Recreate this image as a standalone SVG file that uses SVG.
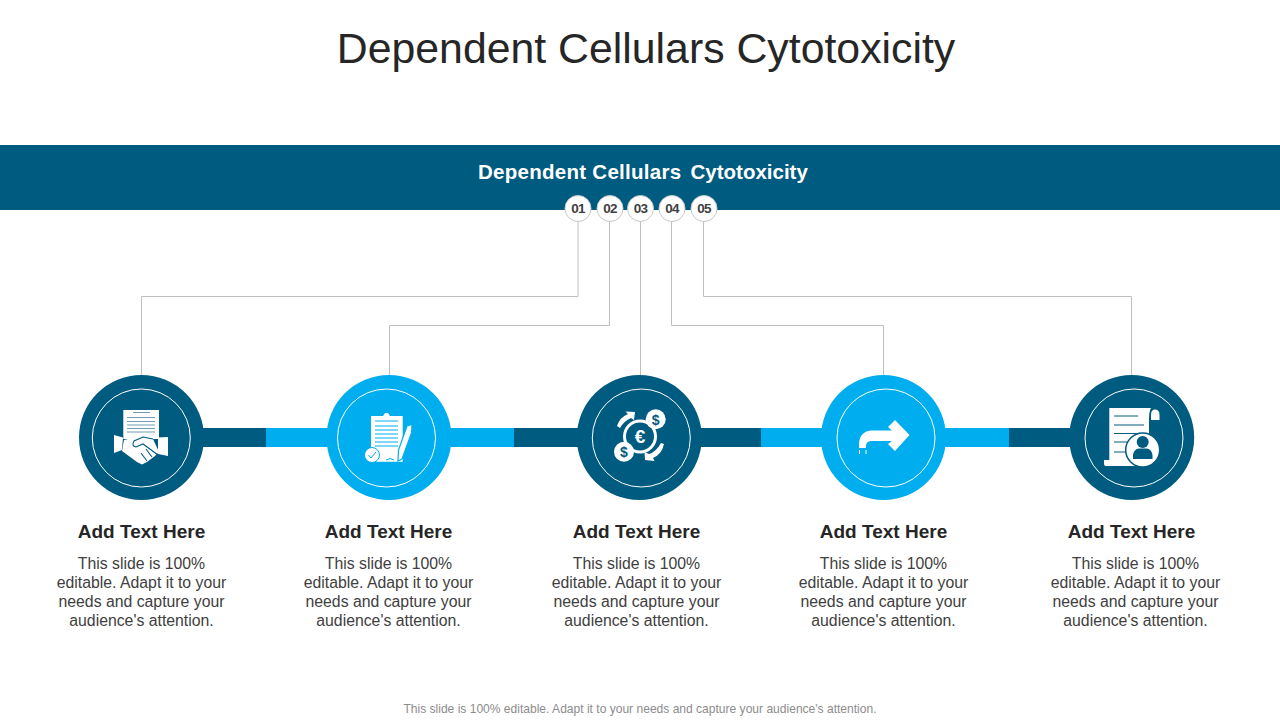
<svg xmlns="http://www.w3.org/2000/svg" width="1280" height="720" viewBox="0 0 1280 720">
<style>
text{font-family:"Liberation Sans",Arial,sans-serif}
.d{fill:#005b80}.l{fill:#00aeef}.w{fill:#fff}
.ring{fill:none;stroke:#fff;stroke-width:1}
.c{fill:none;stroke:#bfbfbf;stroke-width:1}
.b{fill:#fff;stroke:#c8c8c8;stroke-width:1}
.n{font-size:13.500px;font-weight:700;fill:#404040;text-anchor:middle;letter-spacing:-.7px}
.h{font-size:19px;font-weight:700;fill:#262626;text-anchor:middle}
.p{font-size:15.800px;fill:#404040;text-anchor:middle}
.ln{stroke-width:1;fill:none}
</style>
<rect width="1280" height="720" fill="#fff"/>
<text id="title" x="646" y="63" font-size="42.800" fill="#262626" text-anchor="middle">Dependent Cellulars Cytotoxicity</text>
<g id="banner"><rect class="d" x="0" y="145" width="1280" height="65"/>
<text y="179" font-size="20.500" font-weight="700" fill="#fff"><tspan x="478" letter-spacing=".27">Dependent Cellulars</tspan> <tspan x="690.500">Cytotoxicity</tspan></text></g>
<g id="connectors">
<path class="c" d="M578 221V296.500H141.500V375"/>
<path class="c" d="M609.500 221V325.500H389.500V375"/>
<path class="c" d="M640.500 221V375"/>
<path class="c" d="M671.500 221V325.500H883.500V375"/>
<path class="c" d="M703.500 221V296.500H1131.500V375"/>
<rect class="d" x="200" y="428" width="66" height="19"/><rect class="l" x="266" y="428" width="64" height="19"/>
<rect class="l" x="448" y="428" width="66" height="19"/><rect class="d" x="514" y="428" width="66" height="19"/>
<rect class="d" x="699" y="428" width="62" height="19"/><rect class="l" x="761" y="428" width="64" height="19"/>
<rect class="l" x="943" y="428" width="66" height="19"/><rect class="d" x="1009" y="428" width="64" height="19"/>
</g>
<g id="badges">
<circle class="b" cx="578" cy="208.500" r="13"/><text class="n" x="578" y="213">01</text>
<circle class="b" cx="610" cy="208.500" r="13"/><text class="n" x="610" y="213">02</text>
<circle class="b" cx="640.500" cy="208.500" r="13"/><text class="n" x="640.500" y="213">03</text>
<circle class="b" cx="672" cy="208.500" r="13"/><text class="n" x="672" y="213">04</text>
<circle class="b" cx="704" cy="208.500" r="13"/><text class="n" x="704" y="213">05</text>
</g>
<g id="node1">
<circle class="d" cx="141.500" cy="437.500" r="62.500"/><circle class="ring" cx="141.300" cy="438" r="49"/>
<rect class="w" x="123.300" y="410" width="35.700" height="29"/>
<path class="ln" stroke="#6f9db3" d="M133 412.500H150M127 417.500H155M127 421.500H155M127 425H155M127 428.500H155M127 432H155"/>
<path class="w" d="M114 435L123 437.500L122 450L114 453ZM158 437.500L168 437V456L158 454Z"/>
<path class="w" d="M124 440L132 438L143 436L153 439L159 452L155 456L151 459L147 462L142 464.500L137 462L122 451Z"/>
<path d="M153 439L143 437L134 441Q131 446 136 447L143 444L158 455M146 449L152 457M141 453L147 461" fill="none" stroke="#005b80" stroke-width="1.100"/>
</g>
<g id="node2">
<circle class="l" cx="389" cy="437.500" r="62.500"/><circle class="ring" cx="386.500" cy="438" r="49"/>
<path class="w" d="M371 416H383L385 413H388L390 416H402.700V461.700H371Z"/>
<path class="ln" stroke="#00aeef" stroke-width="1.100" d="M375 421H398M375 426H398M375 430H398M375 434H398M375 438H398M375 442H398M375 446H398"/>
<path class="w" stroke="#00aeef" stroke-width="1.200" d="M407 426L412 424.500L411.500 433L402 459L398 461L398.500 450Z"/>
<circle class="w" stroke="#00aeef" cx="372" cy="455" r="7.500"/><path d="M368.500 455L371 458L376 452" fill="none" stroke="#00aeef" stroke-width="1"/>
<path d="M386 460Q390 457 394 460" fill="none" stroke="#00aeef" stroke-width="1"/>
</g>
<g id="node3">
<circle class="d" cx="639.300" cy="437.500" r="62.500"/><circle class="ring" cx="641.300" cy="438" r="49"/>
<circle cx="640" cy="436.500" r="15.500" fill="none" stroke="#fff" stroke-width="3"/>
<path class="w" d="M617 426Q620 417 628 414L625.500 411.500L635 412L634 420L631 418Q624 421 620 428ZM664 444Q662 454 653 458L654.500 461L645 460L644.500 452L649 454Q656 452 661 443Z"/>
<circle class="w" cx="655.700" cy="419.300" r="10"/><circle class="w" cx="624" cy="451.700" r="10"/>
<text x="640" y="443" font-size="19" font-weight="700" fill="#fff" text-anchor="middle">€</text>
<text x="655.700" y="424.500" font-size="14" font-weight="700" fill="#005b80" text-anchor="middle">$</text>
<text x="624" y="457" font-size="14" font-weight="700" fill="#005b80" text-anchor="middle">$</text>
</g>
<g id="node4">
<circle class="l" cx="883.500" cy="437.500" r="62.500"/><circle class="ring" cx="886" cy="438" r="49"/>
<path class="w" d="M895 420L909.500 435L895 451L888 444L892 441H872Q866 441 866 446V448H859V444Q859.500 431 872 430.500H892L888 427Z"/>
<path d="M859.500 450V454M866 450V454" stroke="#fff" stroke-width="1" fill="none"/>
</g>
<g id="node5">
<circle class="d" cx="1131.700" cy="437.500" r="62.500"/><circle class="ring" cx="1134" cy="438" r="49"/>
<path class="w" d="M1109.300 408H1151Q1149 411 1149 420V455L1130 461H1109.300Z"/>
<path class="w" d="M1104 460H1135V466H1106Q1104 466 1104 464Z"/>
<path class="w" d="M1151 420V415Q1151 409.500 1155 409.500Q1159.500 409.500 1159.500 415V420Z"/>
<path class="ln" stroke="#005b80" stroke-width="1.800" d="M1114 416H1138M1114 425H1144M1114 433.500H1146M1114 442H1128M1114 452H1127"/>
<circle cx="1142.700" cy="450" r="17" class="w" stroke="#005b80" stroke-width="1.500"/>
<circle class="d" cx="1142.700" cy="442" r="6"/><path class="d" d="M1133 459V455Q1134 449 1139 448.500H1146.500Q1151.500 449 1152.500 455V459Z"/>
</g>
<g id="text1">
<text class="h" x="141.500" y="538">Add Text Here</text>
<text class="p" x="141.500" y="569">This slide is 100%</text><text class="p" x="141.500" y="588">editable. Adapt it to your</text><text class="p" x="141.500" y="607">needs and capture your</text><text class="p" x="141.500" y="626">audience's attention.</text>
</g>
<g id="text2">
<text class="h" x="388.500" y="538">Add Text Here</text>
<text class="p" x="388.500" y="569">This slide is 100%</text><text class="p" x="388.500" y="588">editable. Adapt it to your</text><text class="p" x="388.500" y="607">needs and capture your</text><text class="p" x="388.500" y="626">audience's attention.</text>
</g>
<g id="text3">
<text class="h" x="636.500" y="538">Add Text Here</text>
<text class="p" x="636.500" y="569">This slide is 100%</text><text class="p" x="636.500" y="588">editable. Adapt it to your</text><text class="p" x="636.500" y="607">needs and capture your</text><text class="p" x="636.500" y="626">audience's attention.</text>
</g>
<g id="text4">
<text class="h" x="883.500" y="538">Add Text Here</text>
<text class="p" x="883.500" y="569">This slide is 100%</text><text class="p" x="883.500" y="588">editable. Adapt it to your</text><text class="p" x="883.500" y="607">needs and capture your</text><text class="p" x="883.500" y="626">audience's attention.</text>
</g>
<g id="text5">
<text class="h" x="1131.500" y="538">Add Text Here</text>
<text class="p" x="1135.500" y="569">This slide is 100%</text><text class="p" x="1135.500" y="588">editable. Adapt it to your</text><text class="p" x="1135.500" y="607">needs and capture your</text><text class="p" x="1135.500" y="626">audience's attention.</text>
</g>
<text id="footer" x="640" y="713" font-size="12.050" fill="#8c8c8c" text-anchor="middle">This slide is 100% editable. Adapt it to your needs and capture your audience's attention.</text>
</svg>
